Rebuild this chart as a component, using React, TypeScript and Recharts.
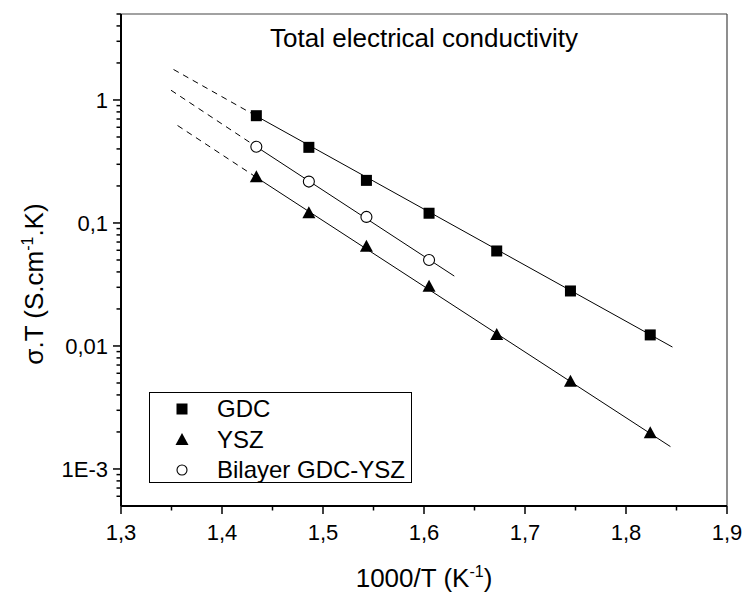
import React from 'react';
import { ComposedChart, XAxis, YAxis, Line, Scatter, ReferenceLine, Legend } from 'recharts';

const FONT = '"Liberation Sans", Arial, sans-serif';

// Measured points (1000/T in K^-1, sigma.T in S.cm^-1.K)
const xValues = [1.434, 1.486, 1.543, 1.605, 1.672, 1.745, 1.824];
const gdcValues = [0.745, 0.412, 0.222, 0.12, 0.0592, 0.028, 0.0123];
const yszValues = [0.235, 0.12, 0.0642, 0.0303, 0.0123, 0.00513, 0.00195];
const bilayerValues = [0.417, 0.217, 0.112, 0.05];

// Linear (Arrhenius) fit lines: [x, y] end points
const gdcFitDashed = [[1.352, 1.77], [1.434, 0.74]];
const gdcFitSolid = [[1.434, 0.74], [1.846, 0.0098]];
const yszFitDashed = [[1.356, 0.62], [1.434, 0.235]];
const yszFitSolid = [[1.434, 0.235], [1.844, 0.00152]];
const bilayerFitDashed = [[1.3495, 1.2], [1.434, 0.417]];
const bilayerFitSolid = [[1.434, 0.417], [1.63, 0.037]];

// Axis ticks
const xMajorTicks = [1.3, 1.4, 1.5, 1.6, 1.7, 1.8, 1.9];
const xMajorLabels = ['1,3', '1,4', '1,5', '1,6', '1,7', '1,8', '1,9'];
const xMinorTicks = [1.35, 1.45, 1.55, 1.65, 1.75, 1.85];
const yMajorTicks = [0.001, 0.01, 0.1, 1];
const yMajorLabels = ['1E-3', '0,01', '0,1', '1'];
const yMinorTicks = [
  0.0006, 0.0007, 0.0008, 0.0009,
  0.002, 0.003, 0.004, 0.005, 0.006, 0.007, 0.008, 0.009,
  0.02, 0.03, 0.04, 0.05, 0.06, 0.07, 0.08, 0.09,
  0.2, 0.3, 0.4, 0.5, 0.6, 0.7, 0.8, 0.9,
  2, 3, 4, 5,
];

const seriesNames = ['GDC', 'YSZ', 'Bilayer GDC-YSZ'];
const chartTitle = 'Total electrical conductivity';

const toPoints = (ys: number[]) => ys.map((y, i) => ({ x: xValues[i], y }));
const toLine = (pts: number[][]) => pts.map(([x, y]) => ({ x, y }));

const gdcData = toPoints(gdcValues);
const yszData = toPoints(yszValues);
const bilayerData = toPoints(bilayerValues);

const findIndex = (arr: number[], v: number) =>
  arr.findIndex((a) => Math.abs(a - v) / a < 1e-6);

const SquareShape = (p: any) => (
  <rect x={p.cx - 5.5} y={p.cy - 5.5} width={11} height={11} fill="#000" />
);
const TriangleShape = (p: any) => (
  <polygon
    points={`${p.cx},${p.cy - 7} ${p.cx - 6.5},${p.cy + 5} ${p.cx + 6.5},${p.cy + 5}`}
    fill="#000"
  />
);
const CircleShape = (p: any) => (
  <circle cx={p.cx} cy={p.cy} r={5.5} fill="#fff" stroke="#000" strokeWidth={1.1} />
);

const XTick = (props: any) => {
  const { x, y, payload } = props;
  const i = findIndex(xMajorTicks, payload.value);
  const major = i >= 0;
  return (
    <g>
      <line x1={x} x2={x} y1={y} y2={y + (major ? 8 : 4.5)} stroke="#000" strokeWidth={1.5} />
      {major && (
        <text x={x} y={y + 34} textAnchor="middle" fontFamily={FONT} fontSize={22} fill="#000">
          {xMajorLabels[i]}
        </text>
      )}
    </g>
  );
};

const YTick = (props: any) => {
  const { x, y, payload } = props;
  const i = findIndex(yMajorTicks, payload.value);
  const major = i >= 0;
  return (
    <g>
      <line x1={x} x2={x - (major ? 8 : 4.5)} y1={y} y2={y} stroke="#000" strokeWidth={1.5} />
      {major && (
        <text x={x - 13} y={y} dy="0.36em" textAnchor="end" fontFamily={FONT} fontSize={22} fill="#000">
          {yMajorLabels[i]}
        </text>
      )}
    </g>
  );
};

const XTitle = (props: any) => {
  const vb = props.viewBox || {};
  const cx = vb.x + vb.width / 2;
  return (
    <text x={cx} y={vb.y + 81} textAnchor="middle" fontFamily={FONT} fontSize={26} fill="#000">
      1000/T (K<tspan dy={-10} fontSize={16}>-1</tspan>
      <tspan dy={10}>)</tspan>
    </text>
  );
};

const YTitle = (props: any) => {
  const vb = props.viewBox || {};
  const cx = vb.x + 12;
  const cy = vb.y + vb.height / 2 + 24;
  return (
    <text
      x={cx}
      y={cy}
      transform={`rotate(-90, ${cx}, ${cy})`}
      textAnchor="middle"
      fontFamily={FONT}
      fontSize={26}
      fill="#000"
    >
      σ.T (S.cm<tspan dy={-10} fontSize={16}>-1</tspan>
      <tspan dy={10}>.K)</tspan>
    </text>
  );
};

const TitleLabel = (props: any) => {
  const vb = props.viewBox || {};
  return (
    <text x={vb.x + vb.width / 2} y={vb.y + 33} textAnchor="middle" fontFamily={FONT} fontSize={26} fill="#000">
      {chartTitle}
    </text>
  );
};

const legendShapes = [
  (cx: number, cy: number) => <rect x={cx - 5.5} y={cy - 5.5} width={11} height={11} fill="#000" />,
  (cx: number, cy: number) => (
    <polygon points={`${cx},${cy - 7} ${cx - 6.5},${cy + 5} ${cx + 6.5},${cy + 5}`} fill="#000" />
  ),
  (cx: number, cy: number) => <circle cx={cx} cy={cy} r={5} fill="#fff" stroke="#000" strokeWidth={1.1} />,
];

const LegendBox = () => (
  <div
    style={{
      border: '1px solid #000',
      width: 263,
      height: 91,
      boxSizing: 'border-box',
      background: '#fff',
      paddingTop: 1,
      fontFamily: FONT,
      fontSize: 24,
      color: '#000',
    }}
  >
    {seriesNames.map((name, i) => (
      <div key={name} style={{ display: 'flex', alignItems: 'center', height: 30.5, whiteSpace: 'nowrap' }}>
        <svg width={67} height={30} style={{ flex: 'none' }}>
          {legendShapes[i](32, 15)}
        </svg>
        <span>{name}</span>
      </div>
    ))}
  </div>
);

export default function App() {
  return (
    <div style={{ position: 'absolute', left: 0, top: 0, width: 742, height: 592 }}>
      <ComposedChart
        width={742}
        height={592}
        margin={{ top: 14, right: 15, left: 31, bottom: 16 }}
        style={{ overflow: 'visible' }}
      >
        <XAxis
          dataKey="x"
          type="number"
          domain={[1.3, 1.9]}
          allowDataOverflow
          ticks={[...xMajorTicks, ...xMinorTicks].sort((a, b) => a - b)}
          interval={0}
          tick={<XTick />}
          tickLine={false}
          tickSize={0}
          tickMargin={0}
          height={70}
          axisLine={{ stroke: '#000', strokeWidth: 2 }}
          label={<XTitle />}
        />
        <YAxis
          dataKey="y"
          type="number"
          scale="log"
          domain={[0.0005, 5]}
          allowDataOverflow
          ticks={[...yMajorTicks, ...yMinorTicks].sort((a, b) => a - b)}
          interval={0}
          tick={<YTick />}
          tickLine={false}
          tickSize={0}
          tickMargin={0}
          width={90}
          axisLine={{ stroke: '#000', strokeWidth: 2 }}
          label={<YTitle />}
        />
        <ReferenceLine y={5} stroke="#444" strokeWidth={1.2} label={<TitleLabel />} />
        <ReferenceLine x={1.9} stroke="#444" strokeWidth={1.2} />

        <Line data={toLine(gdcFitDashed)} dataKey="y" stroke="#000" strokeWidth={1} strokeDasharray="6 5" dot={false} isAnimationActive={false} legendType="none" />
        <Line data={toLine(gdcFitSolid)} dataKey="y" stroke="#000" strokeWidth={1} dot={false} isAnimationActive={false} legendType="none" />
        <Line data={toLine(bilayerFitDashed)} dataKey="y" stroke="#000" strokeWidth={1} strokeDasharray="6 5" dot={false} isAnimationActive={false} legendType="none" />
        <Line data={toLine(bilayerFitSolid)} dataKey="y" stroke="#000" strokeWidth={1} dot={false} isAnimationActive={false} legendType="none" />
        <Line data={toLine(yszFitDashed)} dataKey="y" stroke="#000" strokeWidth={1} strokeDasharray="6 5" dot={false} isAnimationActive={false} legendType="none" />
        <Line data={toLine(yszFitSolid)} dataKey="y" stroke="#000" strokeWidth={1} dot={false} isAnimationActive={false} legendType="none" />

        <Scatter name={seriesNames[0]} data={gdcData} dataKey="y" shape={<SquareShape />} isAnimationActive={false} />
        <Scatter name={seriesNames[1]} data={yszData} dataKey="y" shape={<TriangleShape />} isAnimationActive={false} />
        <Scatter name={seriesNames[2]} data={bilayerData} dataKey="y" shape={<CircleShape />} isAnimationActive={false} />

        <Legend
          layout="vertical"
          align="center"
          verticalAlign="middle"
          content={<LegendBox />}
          wrapperStyle={{ position: 'absolute', left: 149, top: 392, width: 263, height: 91 }}
        />
      </ComposedChart>
    </div>
  );
}
